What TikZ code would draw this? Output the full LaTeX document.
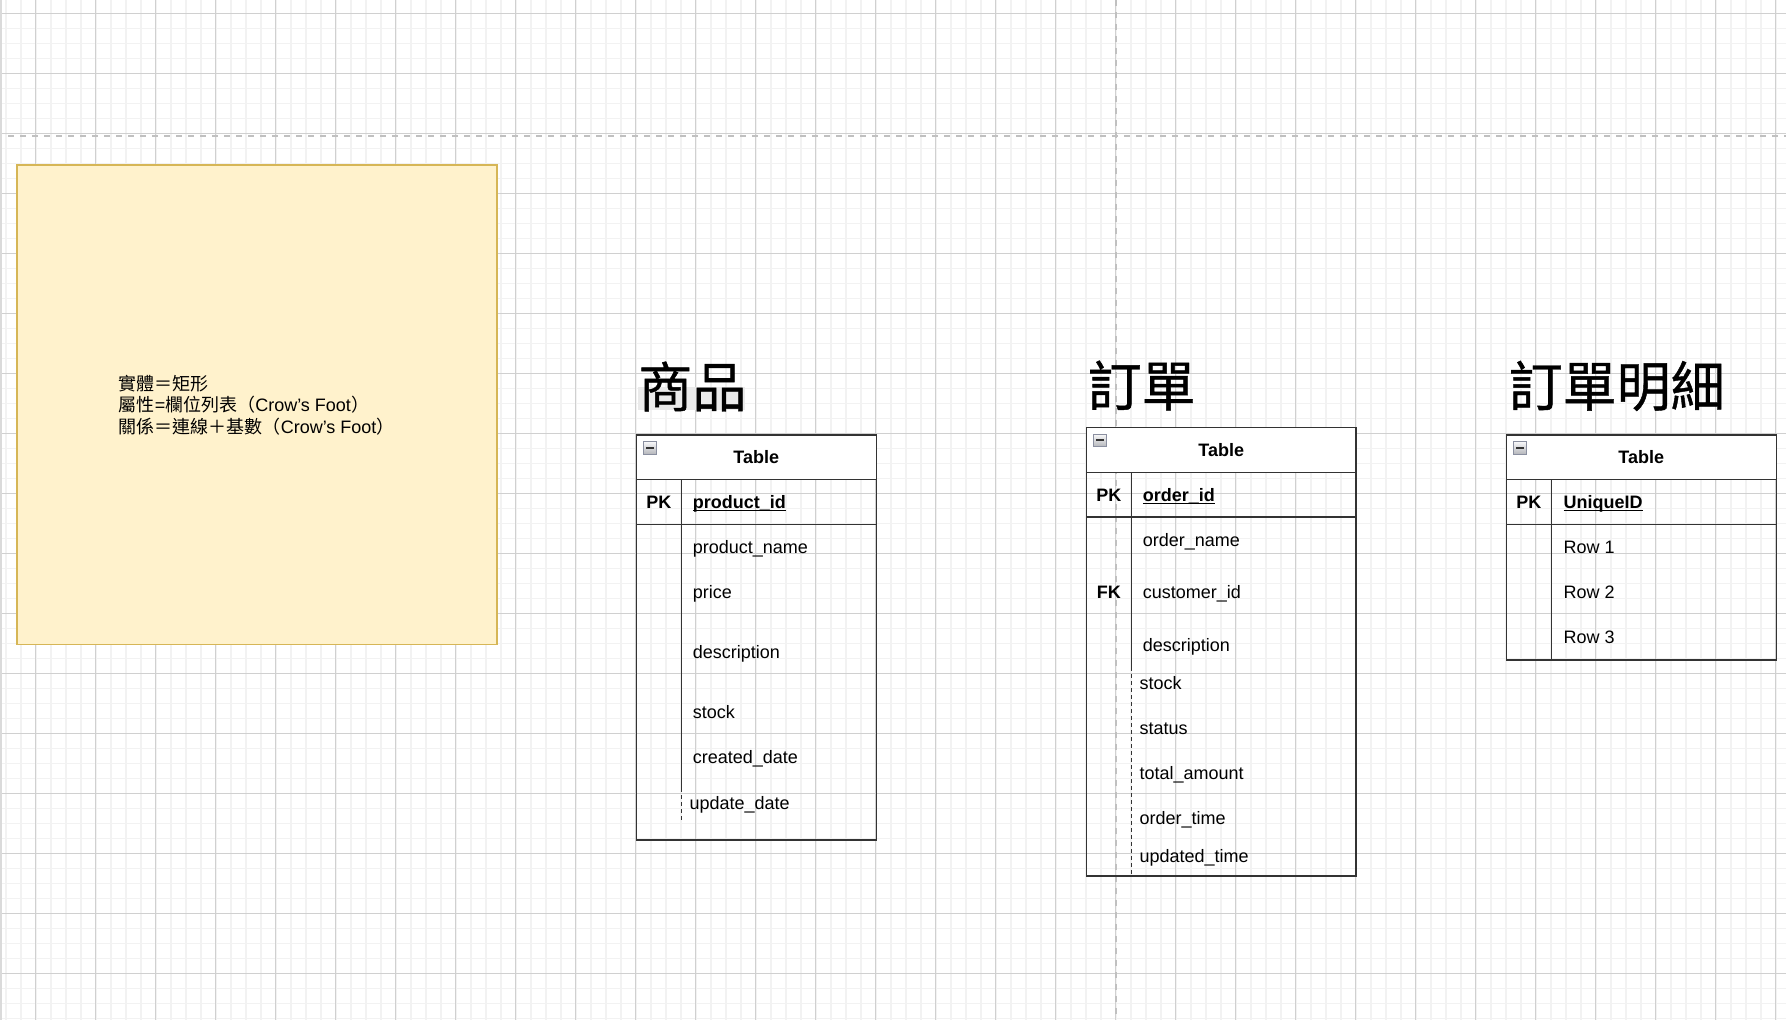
\documentclass[tikz,border=0pt]{standalone}
\usepackage{fontspec}
\setmainfont{Liberation Sans}
\newfontfamily\cjk{Noto Sans CJK TC}
\newfontfamily\cjktitle[FakeBold=0.8]{Noto Sans CJK TC}
\definecolor{minorgrid}{HTML}{F2F2F2}
\definecolor{majorgrid}{HTML}{D0D0D0}
\definecolor{brk}{HTML}{C0C0C0}
\definecolor{edge}{HTML}{DADADA}
\definecolor{notefill}{HTML}{FFF2CC}
\definecolor{notedraw}{HTML}{D6B656}
\definecolor{tline}{HTML}{333333}
\definecolor{iconfill}{HTML}{D4D6DC}
\definecolor{icondraw}{HTML}{8A8FA0}
\definecolor{titlebg}{HTML}{EAEAEA}
\newcommand\myul[1]{\setbox0=\hbox{#1}\rlap{\rule[-2.7pt]{\wd0}{1.4pt}}\box0}
\tikzset{
  minorline/.style={line width=1.6pt, draw=minorgrid},
  majorline/.style={line width=1pt, draw=majorgrid},
  pagebrk/.style={line width=2pt, draw=brk, dash pattern=on 6pt off 6pt},
  tbl/.style={line width=1.4pt, draw=tline},
  tbldash/.style={line width=1.4pt, draw=tline, dash pattern=on 4pt off 3pt},
  txt/.style={anchor=base west, inner sep=0pt, font=\fontsize{18}{21.6}\selectfont},
  btxt/.style={anchor=base west, inner sep=0pt, font=\fontsize{18}{21.6}\selectfont\bfseries},
  ctxt/.style={anchor=base, inner sep=0pt, font=\fontsize{18}{21.6}\selectfont\bfseries},
  title/.style={anchor=center, inner sep=0pt, font={\cjktitle\fontsize{54}{60}\selectfont}},
  notetxt/.style={anchor=base west, inner sep=0pt, font=\fontsize{18}{21.6}\selectfont},
  icon/.style={draw=icondraw, line width=0.9pt, top color=white!85!iconfill, bottom color=iconfill!85!black},
}
\begin{document}
\begin{tikzpicture}[x=1pt,y=-1pt]
\useasboundingbox (0,0) rectangle (1786,1020);
\fill[white] (0,0) rectangle (1786,1020);
% grid
\foreach \i in {0,...,118} \draw[minorline] ({5.7+15*\i},0) -- ({5.7+15*\i},1020);
\foreach \j in {0,...,67} \draw[minorline] (0,{13.3+15*\j}) -- (1786,{13.3+15*\j});
\foreach \i in {0,...,29} \draw[majorline] ({35.7+60*\i},0) -- ({35.7+60*\i},1020);
\foreach \j in {0,...,16} \draw[majorline] (0,{13.3+60*\j}) -- (1786,{13.3+60*\j});
\draw[line width=1.7pt, draw=edge] (0.85,0) -- (0.85,1020);
% page breaks
\draw[pagebrk] (8,136) -- (1786,136);
\draw[pagebrk] (1116,0) -- (1116,1020);

% note
\draw[fill=notefill, draw=notedraw, line width=1.5pt] (16.8,165) rectangle (497,644.6);
\node[notetxt] (n1) at (118.6,390) {{\cjk 實體＝矩形}};
\node[notetxt] (n2) at (118.6,411.5) {{\cjk 屬性}={\cjk 欄位列表（}Crow’s Foot{\cjk ）}};
\node[notetxt] (n3) at (118.6,433) {{\cjk 關係＝連線＋基數（}Crow’s Foot{\cjk ）}};

% titles
\fill[titlebg] (638,386.7) rectangle (745,410);
\node[title] (t1) at (692.4,386.5) {商品};
\node[title] (t2) at (1141.7,385.5) {訂單};
\node[title] (t3) at (1616.7,385.9) {訂單明細};

% ---- table 商品
\fill[white] (636.3,435) rectangle (876.3,479.7);
\draw[tbl] (636.3,435) rectangle (876.3,840);
\draw[tbl] (636.3,479.7) -- (876.3,479.7);
\draw[tbl] (636.3,524.7) -- (876.3,524.7);
\draw[tbl] (681.5,479.7) -- (681.5,788);
\draw[tbldash] (681.5,788) -- (681.5,821);
\draw[icon] (643.3,441.6) rectangle (656.7,454.2);
\draw[line width=2pt, draw=tline] (646.3,447.9) -- (653.7,447.9);
\node[ctxt] (a0) at (756.3,463.8) {Table};
\node[ctxt] (a1) at (658.8,508.7) {PK};
\node[btxt] (a2) at (692.7,508.7) {\myul{product\_id}};
\node[txt] (a3) at (692.7,553.8) {product\_name};
\node[txt] (a4) at (692.7,598.8) {price};
\node[txt] (a5) at (692.7,658.8) {description};
\node[txt] (a6) at (692.7,718.2) {stock};
\node[txt] (a7) at (692.7,763.2) {created\_date};
\node[txt] (a8) at (689.3,809.2) {update\_date};

% ---- table 訂單
\fill[white] (1086.5,427.5) rectangle (1356,472.5);
\draw[tbl] (1086.5,427.5) rectangle (1356,876);
\draw[tbl] (1086.5,472.5) -- (1356,472.5);
\draw[tbl] (1086.5,517) -- (1356,517);
\draw[tbl] (1131.3,472.5) -- (1131.3,667);
\draw[tbldash] (1131.3,667) -- (1131.3,874);
\draw[icon] (1093.3,434.1) rectangle (1106.7,446.7);
\draw[line width=2pt, draw=tline] (1096.3,440.4) -- (1103.7,440.4);
\node[ctxt] (b0) at (1221.2,456.5) {Table};
\node[ctxt] (b1) at (1108.9,501.2) {PK};
\node[btxt] (b2) at (1142.7,501.2) {\myul{order\_id}};
\node[txt] (b3) at (1142.7,546.5) {order\_name};
\node[ctxt] (b4) at (1108.9,598.3) {FK};
\node[txt] (b5) at (1142.7,598.3) {customer\_id};
\node[txt] (b6) at (1142.7,651.1) {description};
\node[txt] (b7) at (1139.3,689.4) {stock};
\node[txt] (b8) at (1139.3,734.7) {status};
\node[txt] (b9) at (1139.3,779.4) {total\_amount};
\node[txt] (b10) at (1139.3,824) {order\_time};
\node[txt] (b11) at (1139.3,862.6) {updated\_time};

% ---- table 訂單明細
\fill[white] (1506.3,435) rectangle (1776.3,479.7);
\draw[tbl] (1506.3,435) rectangle (1776.3,660);
\draw[tbl] (1506.3,479.7) -- (1776.3,479.7);
\draw[tbl] (1506.3,524.7) -- (1776.3,524.7);
\draw[tbl] (1551.3,479.7) -- (1551.3,660);
\draw[icon] (1513.3,441.6) rectangle (1526.7,454.2);
\draw[line width=2pt, draw=tline] (1516.3,447.9) -- (1523.7,447.9);
\node[ctxt] (c0) at (1641.3,463.8) {Table};
\node[ctxt] (c1) at (1528.8,508.7) {PK};
\node[btxt] (c2) at (1563.3,508.7) {\myul{UniqueID}};
\node[txt] (c3) at (1563.3,553.2) {Row 1};
\node[txt] (c4) at (1563.3,598.2) {Row 2};
\node[txt] (c5) at (1563.3,643.2) {Row 3};
\end{tikzpicture}
\end{document}
